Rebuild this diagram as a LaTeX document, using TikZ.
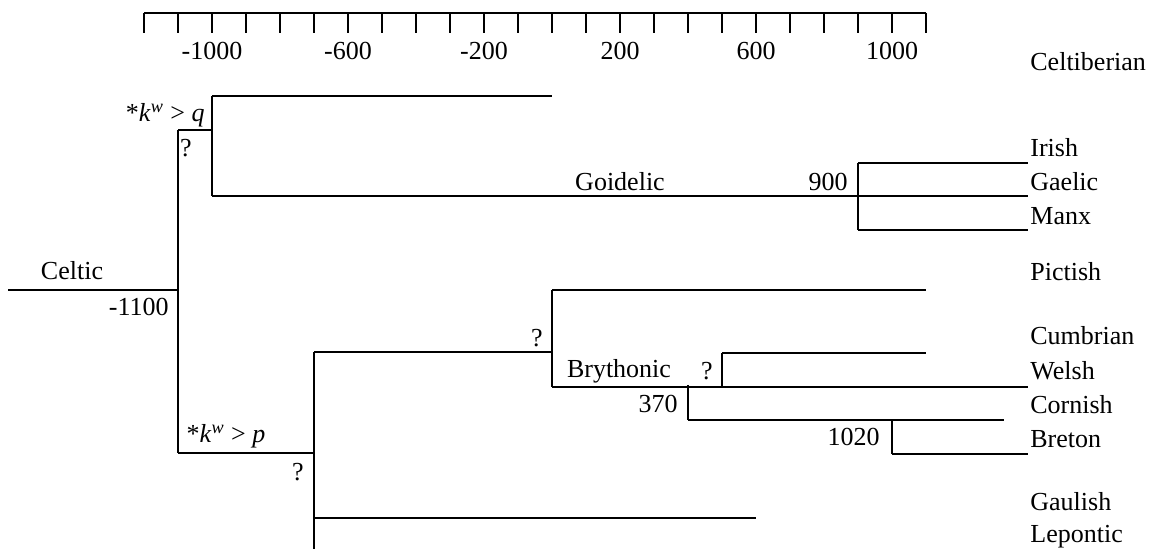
\documentclass[tikz,border=0pt]{standalone}
\usepackage{fontspec}
\setmainfont{Liberation Serif}
\usetikzlibrary{positioning}

\begin{document}
\begin{tikzpicture}[
    x=0.5pt, y=-0.5pt,
    branch/.style={draw, line width=1.3pt},
    tickmark/.style={draw, line width=1.1pt},
    lang/.style={anchor=west, inner sep=0pt, font=\fontsize{13}{15}\selectfont},
    lbl/.style={inner sep=0pt, font=\fontsize{13}{15}\selectfont}
]
    \useasboundingbox (0,0) rectangle (1158,549);

    % Time axis
    \coordinate (axL) at (144,13);
    \coordinate (axR) at (926,13);
    \draw[tickmark] (axL) -- (axR);
    \foreach \k in {0,...,23}
        \draw[tickmark] (144+34*\k,13) -- ++(0,20);
    \foreach \yr in {-1000,-600,-200,200,600,1000}
        \node[lbl] (yr\yr) at (552+0.34*\yr,51) {\yr};

    % Root
    \coordinate (root) at (8,290);
    \coordinate (split) at (178,290);
    \coordinate (qj) at (178,130);
    \coordinate (pj) at (178,453);
    \draw[branch] (root) -- (split);
    \draw[branch] (qj) -- (pj);
    \node[lbl] (celtic) at (72,271) {Celtic};
    \node[lbl, anchor=east] (d1100) at (169,307) {-1100};

    % q-Celtic
    \coordinate (qs) at (212,130);
    \coordinate (ctb) at (212,96);
    \coordinate (goi) at (212,196);
    \coordinate (ctbEnd) at (552,96);
    \coordinate (g900) at (858,196);
    \coordinate (gTop) at (858,163);
    \coordinate (gBot) at (858,230);
    \coordinate (irishEnd) at (1028,163);
    \coordinate (gaelicEnd) at (1028,196);
    \coordinate (manxEnd) at (1028,230);
    \draw[branch] (qj) -- (qs);
    \draw[branch] (ctb) -- (goi);
    \draw[branch] (ctb) -- (ctbEnd);
    \draw[branch] (goi) -- (g900);
    \draw[branch] (gTop) -- (gBot);
    \draw[branch] (gTop) -- (irishEnd);
    \draw[branch] (g900) -- (gaelicEnd);
    \draw[branch] (gBot) -- (manxEnd);
    \node[lbl, anchor=east] (kq) at (205,115) {*\textit{k}\textsuperscript{\textit{w}} > \textit{q}};
    \node[lbl] (qq) at (186,148) {?};
    \node[lbl] (goidelic) at (620,182) {Goidelic};
    \node[lbl, anchor=east] (d900) at (848,182) {900};

    % p-Celtic
    \coordinate (ps) at (314,453);
    \coordinate (pTop) at (314,352);
    \coordinate (pBot) at (314,549);
    \coordinate (gaul) at (314,518);
    \coordinate (gaulEnd) at (756,518);
    \draw[branch] (pj) -- (ps);
    \draw[branch] (pTop) -- (pBot);
    \draw[branch] (gaul) -- (gaulEnd);
    \node[lbl] (kp) at (226,436) {*\textit{k}\textsuperscript{\textit{w}} > \textit{p}};
    \node[lbl] (pq) at (298,472) {?};

    % Brythonic
    \coordinate (bj) at (552,352);
    \coordinate (picts) at (552,290);
    \coordinate (bryth) at (552,387);
    \coordinate (pictEnd) at (926,290);
    \coordinate (welshEnd) at (1028,387);
    \coordinate (cumb) at (722,353);
    \coordinate (cumbJ) at (722,387);
    \coordinate (cumbEnd) at (926,353);
    \coordinate (b370) at (688,385);
    \coordinate (corn) at (688,420);
    \coordinate (cornEnd) at (1004,420);
    \coordinate (b1020) at (892,420);
    \coordinate (bret) at (892,454);
    \coordinate (bretEnd) at (1028,454);
    \draw[branch] (pTop) -- (bj);
    \draw[branch] (picts) -- (bryth);
    \draw[branch] (picts) -- (pictEnd);
    \draw[branch] (bryth) -- (welshEnd);
    \draw[branch] (cumb) -- (cumbJ);
    \draw[branch] (cumb) -- (cumbEnd);
    \draw[branch] (b370) -- (corn);
    \draw[branch] (corn) -- (cornEnd);
    \draw[branch] (b1020) -- (bret);
    \draw[branch] (bret) -- (bretEnd);
    \node[lbl] (bq) at (537,338) {?};
    \node[lbl] (brythonic) at (619,371) {Brythonic};
    \node[lbl] (cq) at (707,371) {?};
    \node[lbl, anchor=east] (d370) at (678,404) {370};
    \node[lbl, anchor=east] (d1020) at (880,437) {1020};

    % Languages
    \node[lang] (celtiberian) at (1030,62) {Celtiberian};
    \node[lang] (irish) at (1030,148) {Irish};
    \node[lang] (gaelic) at (1030,182) {Gaelic};
    \node[lang] (manx) at (1030,216) {Manx};
    \node[lang] (pictish) at (1030,272) {Pictish};
    \node[lang] (cumbrian) at (1030,336) {Cumbrian};
    \node[lang] (welsh) at (1030,371) {Welsh};
    \node[lang] (cornish) at (1030,405) {Cornish};
    \node[lang] (breton) at (1030,439) {Breton};
    \node[lang] (gaulish) at (1030,502) {Gaulish};
    \node[lang] (lepontic) at (1030,537) {Lepontic};

\end{tikzpicture}
\end{document}
